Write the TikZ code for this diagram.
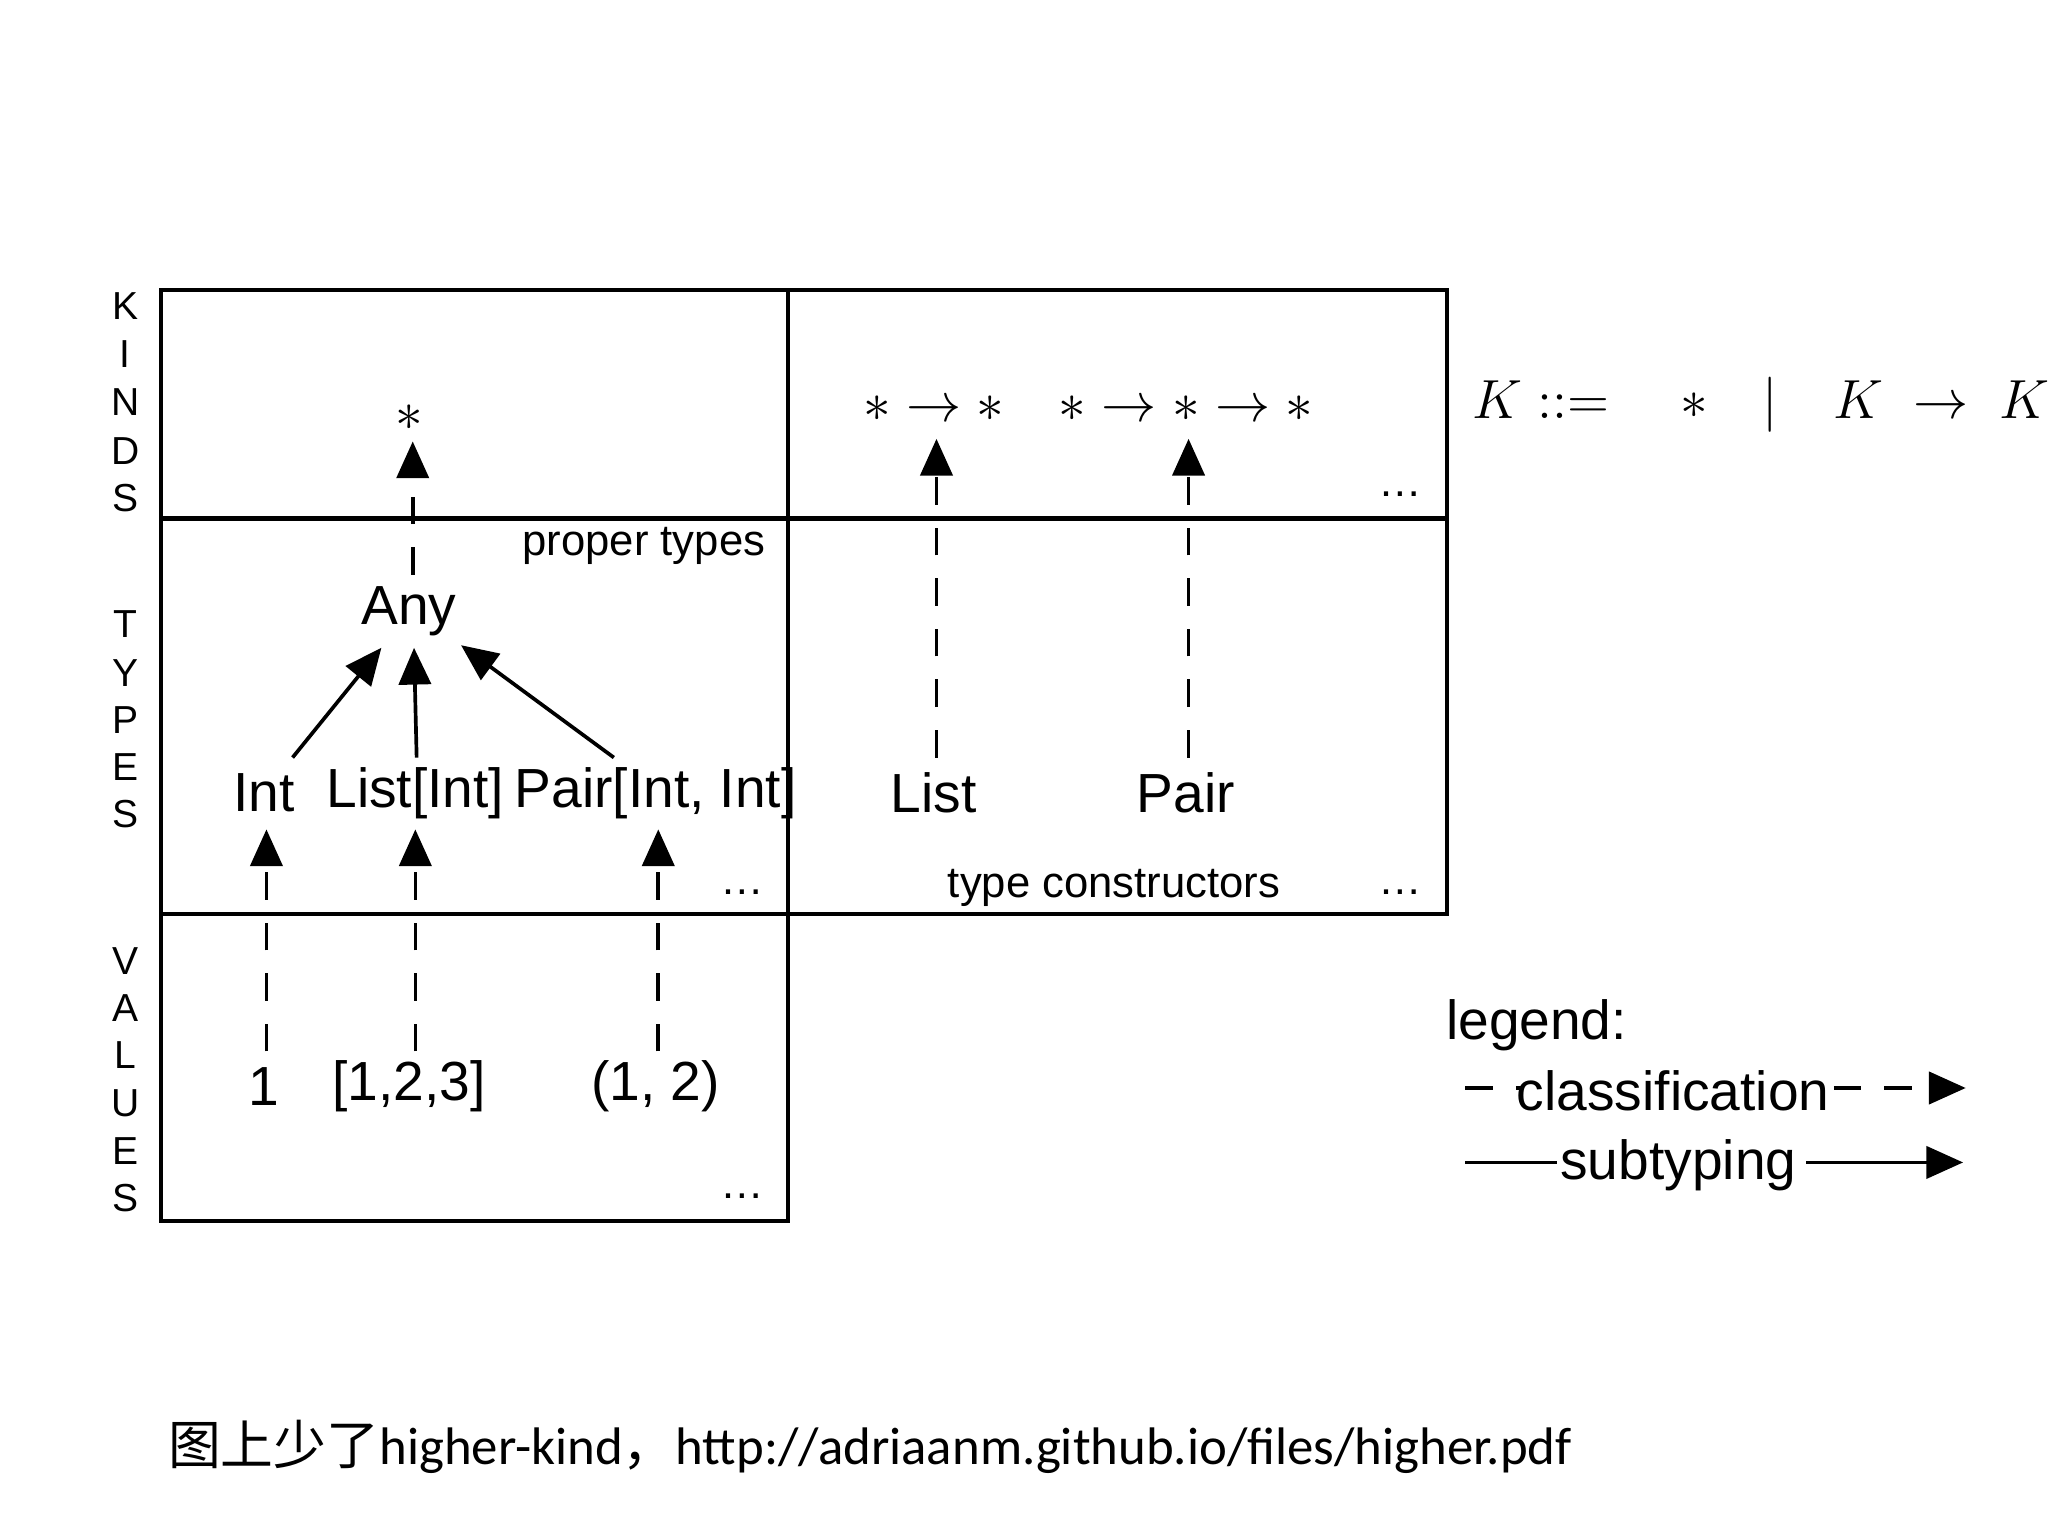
\documentclass[tikz,border=0pt]{standalone}
\usepackage{fontspec}
\setmainfont{Liberation Sans}
\newfontfamily\cjkf{Noto Sans CJK SC}
\newfontfamily\carl{Carlito}
\usetikzlibrary{arrows.meta}
\begin{document}
\begin{tikzpicture}[x=0.01cm,y=-0.01cm,
  lbl/.style={font=\fontsize{12}{14}\selectfont,inner sep=1pt},
  sm/.style={font=\fontsize{9.5}{11}\selectfont,inner sep=1pt},
  side/.style={font=\fontsize{8.5}{10}\selectfont,inner sep=0pt},
  cls/.style={thick,dash pattern=on 6pt off 5pt,-{Triangle[length=8pt,width=7pt]}},
  sub/.style={thick,-{Triangle[length=8pt,width=7pt]}},
  box/.style={line width=0.9pt}]
\useasboundingbox (0,0) rectangle (1568,1176);
\draw[box] (123,222) rectangle (603,935);
\draw[box] (603,222) rectangle (1108,700);
\draw[box] (123,397) -- (1108,397);
\draw[box] (123,700) -- (603,700);
% side letters
\foreach \c/\y [count=\i] in {K/234,I/271,N/308,D/345,S/381,T/478,Y/515,P/551,E/587,S/623,V/736,A/772,L/808,U/845,E/881,S/917}
  \node[side] (s\i) at (96,\y) {\c};
% kinds
\node[lbl] (star) at (313,320) {$*$};
\node[lbl] (k1) at (715,313) {$*\to*$};
\node[lbl] (k2) at (908,313) {$*\to*\to*$};
\node[sm] (d1) at (1072,378) {\dots};
\node[font=\fontsize{12}{14}\selectfont,anchor=west] (kdef) at (1115,310) {$K ::=\quad *\quad|\quad K\;\to\;K$};
% types
\node[sm] (pt) at (493,418) {proper types};
\node[lbl] (any) at (313,468) {Any};
\node[lbl] (int) at (202,607) {Int};
\node[lbl] (li) at (318,607) {List[Int]};
\node[lbl] (pi) at (502,607) {Pair[Int, Int]};
\node[lbl] (list) at (715,607) {List};
\node[lbl] (pair) at (908,607) {Pair};
\node[sm] (tc) at (853,680) {type constructors};
\node[sm] (d2) at (568,683) {\dots};
\node[sm] (d3) at (1072,683) {\dots};
% values
\node[lbl] (v1) at (202,832) {1};
\node[lbl] (v2) at (313,832) {[1,2,3]};
\node[lbl] (v3) at (502,832) {(1, 2)};
\node[sm] (d4) at (568,916) {\dots};
% arrows
\coordinate (a1) at (204,805); \coordinate (b1) at (204,635);
\coordinate (a2) at (318,805); \coordinate (b2) at (318,635);
\coordinate (a3) at (504,805); \coordinate (b3) at (504,635);
\coordinate (a4) at (316,440); \coordinate (b4) at (316,338);
\coordinate (a5) at (717,580); \coordinate (b5) at (717,336);
\coordinate (a6) at (910,580); \coordinate (b6) at (910,336);
\foreach \i in {1,...,6} \draw[cls] (a\i) -- (b\i);
\coordinate (c1) at (224,580); \coordinate (e1) at (292,496);
\coordinate (c2) at (319,580); \coordinate (e2) at (317,496);
\coordinate (c3) at (470,580); \coordinate (e3) at (353,494);
\foreach \i in {1,2,3} \draw[sub] (c\i) -- (e\i);
% legend
\node[lbl,anchor=west] (lg) at (1103,785) {legend:};
\node[lbl] (lc) at (1281,835) {classification};
\node[lbl] (ls) at (1285,892) {subtyping};
\coordinate (l1a) at (1122,833); \coordinate (l1b) at (1165,833);
\coordinate (l2a) at (1404,833); \coordinate (l2b) at (1505,833);
\coordinate (l3a) at (1122,890); \coordinate (l3b) at (1192,890);
\coordinate (l4a) at (1383,890); \coordinate (l4b) at (1503,890);
\draw[thick,dash pattern=on 6pt off 5pt] (l1a) -- (l1b);
\draw[cls] (l2a) -- (l2b);
\draw[thick] (l3a) -- (l3b);
\draw[sub] (l4a) -- (l4b);
% footer
\node[anchor=west,inner sep=0pt,font=\fontsize{11.5}{14}\selectfont] (ft) at (128,1108) {{\cjkf 图上少了}{\carl higher-kind}{\cjkf ，}{\carl http://adriaanm.github.io/files/higher.pdf}};
\end{tikzpicture}
\end{document}
